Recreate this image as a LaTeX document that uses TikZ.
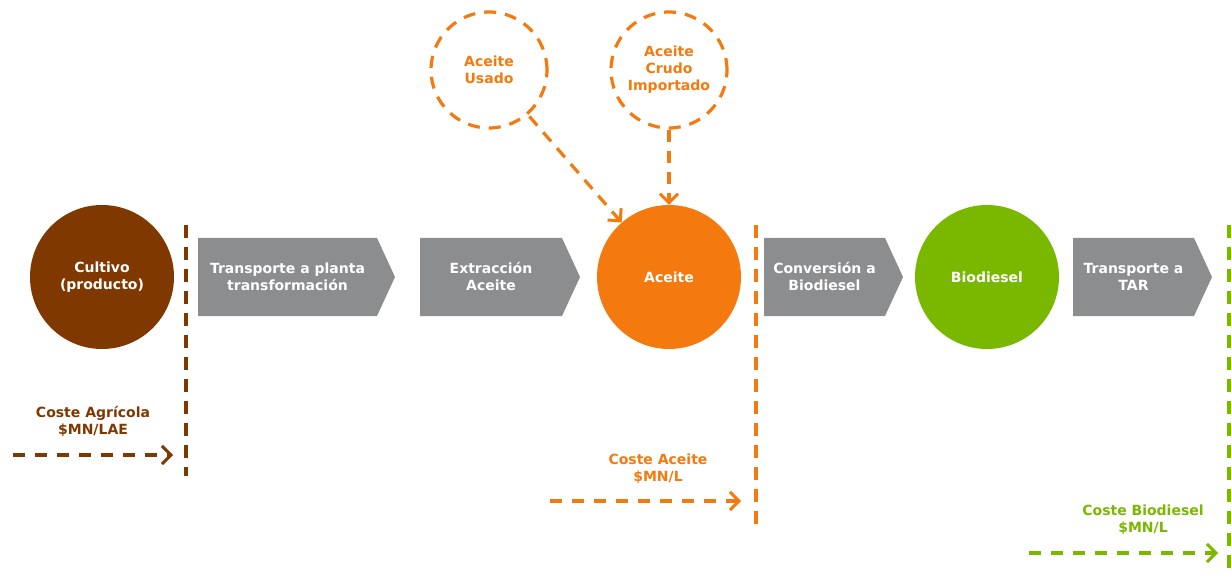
\documentclass[tikz,border=0pt]{standalone}
\usepackage{fontspec}
\setmainfont{DejaVu Sans}
\usetikzlibrary{arrows.meta}
\definecolor{cbrown}{HTML}{7E3800}
\definecolor{corange}{HTML}{F47A0F}
\definecolor{cgreen}{HTML}{7AB800}
\definecolor{cgrey}{HTML}{8C8D8F}
\begin{document}
\begin{tikzpicture}[x=1pt,y=-1pt,
  txt/.style={font=\fontsize{14}{17}\selectfont\bfseries, align=center},
  stage/.style={circle, minimum size=144pt, inner sep=0pt, txt, text=white},
  source/.style={circle, minimum size=116pt, inner sep=0pt, txt, text=corange,
    draw=corange, line width=3.2pt, dash pattern=on 12pt off 9pt},
  steplabel/.style={txt, text=white},
  costlabel/.style={txt},
  boundary/.style={line width=3.2pt, dash pattern=on 13pt off 9pt},
  costarrow/.style={line width=3.2pt, dash pattern=on 12pt off 10pt,
    -{Straight Barb[length=9pt,width=18pt,line width=3pt]}},
  feed/.style={draw=corange, line width=3.2pt, dash pattern=on 12pt off 9pt,
    -{Straight Barb[length=9pt,width=18pt,line width=3pt]}}
]
\useasboundingbox (0,0) rectangle (1231,577);

% chevron process steps: #1 left, #2 start of point, #3 tip
\newcommand{\chevron}[5]{%
  \fill[cgrey] (#1,238) -- (#2,238) -- (#3,277) -- (#2,316) -- (#1,316) -- cycle;
  \node[steplabel] (#4) at ({(#1+#2)/2},277) {#5};}

% main stages
\node[stage, fill=cbrown] (cultivo) at (102,277) {Cultivo\\(producto)};
\node[stage, fill=corange] (aceite) at (669,277) {Aceite};
\node[stage, fill=cgreen] (biodiesel) at (987,277) {Biodiesel};

\chevron{198}{377}{395}{transporte}{Transporte a planta\\transformación}
\chevron{420}{562}{580}{extraccion}{Extracción\\Aceite}
\chevron{764}{885}{903}{conversion}{Conversión a\\Biodiesel}
\chevron{1073}{1194}{1212}{transtar}{Transporte a\\TAR}

% alternative oil sources
\node[source] (usado) at (489,70) {Aceite\\Usado};
\node[source] (crudo) at (669,70) {Aceite\\Crudo\\Importado};
\draw[feed, shorten <=2pt] (usado) -- (aceite);
\draw[feed] (crudo) -- (aceite);

% cost boundaries
\coordinate (b1t) at (186,225); \coordinate (b1b) at (186,476);
\coordinate (b2t) at (756,225); \coordinate (b2b) at (756,528);
\coordinate (b3t) at (1229,225); \coordinate (b3b) at (1229,577);
\draw[boundary, draw=cbrown] (b1t) -- (b1b);
\draw[boundary, draw=corange] (b2t) -- (b2b);
\draw[boundary, draw=cgreen] (b3t) -- (b3b);

% cost arrows and labels
\coordinate (a1s) at (13,455); \coordinate (a1e) at (173,455);
\coordinate (a2s) at (550,501); \coordinate (a2e) at (741,501);
\coordinate (a3s) at (1029,553); \coordinate (a3e) at (1218,553);
\draw[costarrow, draw=cbrown] (a1s) -- (a1e);
\draw[costarrow, draw=corange] (a2s) -- (a2e);
\draw[costarrow, draw=cgreen] (a3s) -- (a3e);
\node[costlabel, text=cbrown] (c1) at (93,421) {Coste Agrícola\\\$MN/LAE};
\node[costlabel, text=corange] (c2) at (658,469) {Coste Aceite\\\$MN/L};
\node[costlabel, text=cgreen] (c3) at (1143,520) {Coste Biodiesel\\\$MN/L};
\end{tikzpicture}
\end{document}
